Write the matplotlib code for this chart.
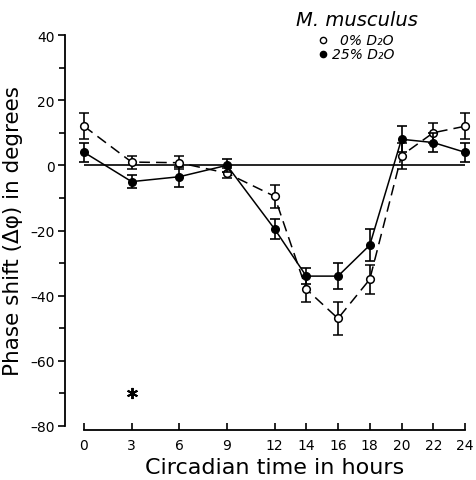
import matplotlib
matplotlib.use('Agg')
import matplotlib.pyplot as plt

# circadian time (h) of the light pulses
CT = [0, 3, 6, 9, 12, 14, 16, 18, 20, 22, 24]

# 0 % D2O (open circles, dashed)
SHIFT_0 = [12, 1, 0.8, -2.4, -9.5, -38, -47, -35, 3, 10, 12]
ERR_0 = [4, 2, 2, 1.5, 3.5, 4, 5, 4.5, 4, 3, 4]

# 25 % D2O (filled circles, solid)
SHIFT_25 = [4, -5, -3.5, 0, -19.5, -34, -34, -24.5, 8, 7, 4]
ERR_25 = [3, 2, 3, 2, 3, 2.5, 4, 5, 4, 3, 3]

X_TICKS = [0, 3, 6, 9, 12, 14, 16, 18, 20, 22, 24]
Y_TICKS = [40, 20, 0, -20, -40, -60, -80]
Y_MINOR = [30, 10, -10, -30, -50, -70]

STAR = (3, -70)

W, H = 476, 481
fig = plt.figure(figsize=(W / 100, H / 100), dpi=100)
ax = fig.add_axes([84 / W, 1 - 427 / H, (465 - 84) / W, (427 - 36) / H])

ax.axhline(0, color='black', linewidth=1.2, zorder=1)

ax.errorbar(CT, SHIFT_0, yerr=ERR_0, fmt='o', linestyle=(0, (7, 4)), color='black',
            mfc='white', mec='black', ms=5.5, mew=1.1, lw=1.1,
            elinewidth=1.2, capsize=3.5, capthick=1.2, zorder=3, clip_on=False)
ax.errorbar(CT, SHIFT_25, yerr=ERR_25, fmt='o', linestyle='-', color='black',
            ms=5.5, lw=1.1, elinewidth=1.2, capsize=3.5, capthick=1.2,
            zorder=4, clip_on=False)

ax.plot(*STAR, marker=(6, 2, 0), color='black', ms=8, mew=1.4)

ax.set_xlim(0, 24)
ax.set_ylim(-80, 40)
ax.set_xticks(X_TICKS)
ax.set_yticks(Y_TICKS)
ax.set_yticks(Y_MINOR, minor=True)
ax.set_yticklabels([str(v).replace('-', '\u2013') for v in Y_TICKS], fontsize=12)
ax.set_xticklabels([str(v) for v in X_TICKS], fontsize=12)

for s in ['top', 'right']:
    ax.spines[s].set_visible(False)
ax.spines['left'].set_position(('outward', 14))
ax.spines['bottom'].set_position(('outward', 3))
ax.spines['left'].set_linewidth(1.3)
ax.spines['bottom'].set_linewidth(1.3)
ax.tick_params(axis='x', direction='in', length=5, width=1.2, pad=6)
ax.tick_params(axis='y', which='major', direction='out', length=5, width=1.2, pad=2)
ax.tick_params(axis='y', which='minor', direction='out', length=4, width=1.2)

ax.set_xlabel('Circadian time in hours', fontsize=16, labelpad=3)
ax.set_ylabel('Phase shift (\u0394\u03c6) in degrees', fontsize=15.5, labelpad=5)

# legend block, top right
fig.text(357 / W, 1 - 20 / H, 'M. musculus', fontsize=14, style='italic',
         ha='center', va='center')
fig.text(394 / W, 1 - 41 / H, '0% D\u2082O', fontsize=10, style='italic',
         ha='right', va='center')
fig.text(394 / W, 1 - 55 / H, '25% D\u2082O', fontsize=10, style='italic',
         ha='right', va='center')
fig.lines.append(plt.Line2D([323 / W], [1 - 41 / H], marker='o', ms=4.5, mfc='white',
                            mec='black', mew=1, transform=fig.transFigure))
fig.lines.append(plt.Line2D([323 / W], [1 - 55 / H], marker='o', ms=4.5, color='black',
                            transform=fig.transFigure))

fig.savefig('out.png', dpi=100)
